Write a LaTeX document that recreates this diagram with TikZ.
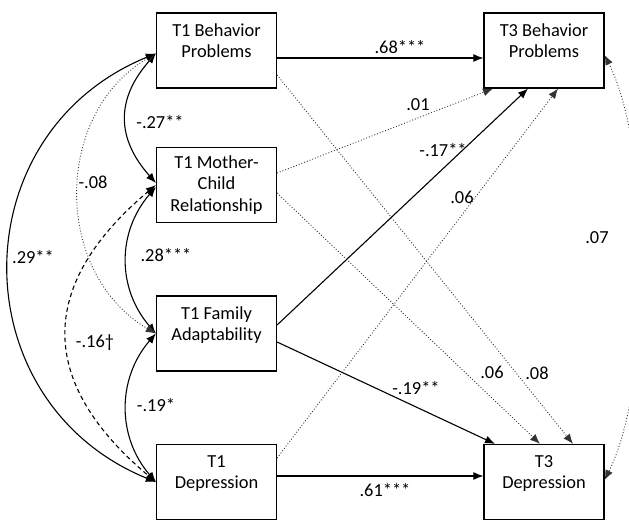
\documentclass[tikz,border=0pt]{standalone}
\usepackage{fontspec}
\setmainfont{Carlito}
\usetikzlibrary{arrows.meta}

\begin{document}
\begin{tikzpicture}[x=0.5pt,y=0.5pt,
  font=\fontsize{9.2}{10.8}\selectfont,
  >={Latex[length=5pt,width=4pt]},
  box/.style={draw,line width=0.6pt,minimum width=60pt,minimum height=37.5pt,inner sep=0pt,align=center},
  twoline/.style={text depth=10pt},
  sig/.style={line width=0.55pt},
  ns/.style={densely dotted,line width=0.45pt,black!80},
  marg/.style={dash pattern=on 2.2pt off 1.6pt,line width=0.55pt},
  lbl/.style={inner sep=0pt}]
\useasboundingbox (0,0) rectangle (629,521);

% variables
\node[box,twoline] (bp1) at (216.5,470.5) {T1 Behavior\\Problems};
\node[box] (mc1) at (216.5,336) {T1 Mother-\\Child\\Relationship};
\node[box,twoline] (fa1) at (216.5,187.5) {T1 Family\\Adaptability};
\node[box,twoline] (dep1) at (216.5,39) {T1\\Depression};
\node[box,twoline] (bp3) at (544,470.5) {T3 Behavior\\Problems};
\node[box,twoline] (dep3) at (544,39) {T3\\Depression};

% paths T1 -> T3
\draw[sig,->] ([yshift=-3.75pt]bp1.east) -- ([yshift=-3.75pt]bp3.west);
\draw[ns,->] ([yshift=-12.25pt]bp1.east) -- ([xshift=14.5pt]dep3.north);
\draw[ns,->] ([yshift=6pt]mc1.east) -- ([xshift=-25.5pt]bp3.south);
\draw[ns,->] ([yshift=-4pt]mc1.east) -- ([xshift=-2pt]dep3.north);
\draw[sig,->] ([yshift=4.25pt]fa1.east) -- ([xshift=-8pt]bp3.south);
\draw[sig,->] ([yshift=-4.25pt]fa1.east) -- ([xshift=-24.5pt]dep3.north);
\draw[ns,->] ([yshift=12pt]dep1.east) -- ([xshift=7pt]bp3.south);
\draw[sig,->] ([yshift=3pt]dep1.east) -- ([yshift=3pt]dep3.west);

% correlations at T1
\draw[sig,<->] ([yshift=-1.5pt]bp1.west) .. controls +(-40,-45) and +(-40,45) .. ([yshift=1pt]mc1.west);
\draw[sig,<->] ([yshift=-1pt]mc1.west) .. controls +(-39,-45) and +(-39,45) .. (fa1.west);
\draw[sig,<->] (fa1.west) .. controls +(-39,-45) and +(-39,45) .. (dep1.west);
\draw[ns,<->] ([yshift=-1.5pt]bp1.west) .. controls +(-103,-60) and +(-103,60) .. (fa1.west);
\draw[marg,<->] (mc1.west) .. controls +(-119,-100) and +(-119,100) .. (dep1.west);
\draw[sig,<->] ([yshift=-1.5pt]bp1.west) .. controls +(-196,-80) and +(-196,80) .. (dep1.west);

% residual correlation at T3
\draw[ns,<->] ([yshift=-2.25pt]bp3.east) .. controls +(48,-96) and +(48,96) .. ([yshift=1pt]dep3.east);

% coefficients
\node[lbl] (c68) at (400,474) {.68***};
\node[lbl] (c01) at (418,416) {.01};
\node[lbl] (c17) at (443,371) {-.17**};
\node[lbl] (c06a) at (462,324) {.06};
\node[lbl] (c07) at (597,283) {.07};
\node[lbl] (c06b) at (492,149) {.06};
\node[lbl] (c08) at (537,148) {.08};
\node[lbl] (c19a) at (416,133) {-.19**};
\node[lbl] (c61) at (385,31) {.61***};
\node[lbl] (c27) at (160,399) {-.27**};
\node[lbl] (c08b) at (93,339) {-.08};
\node[lbl] (c28) at (166,266) {.28***};
\node[lbl] (c29) at (33,264) {.29**};
\node[lbl] (c16) at (95,178) {-.16†};
\node[lbl] (c19b) at (156,116) {-.19*};
\end{tikzpicture}
\end{document}
